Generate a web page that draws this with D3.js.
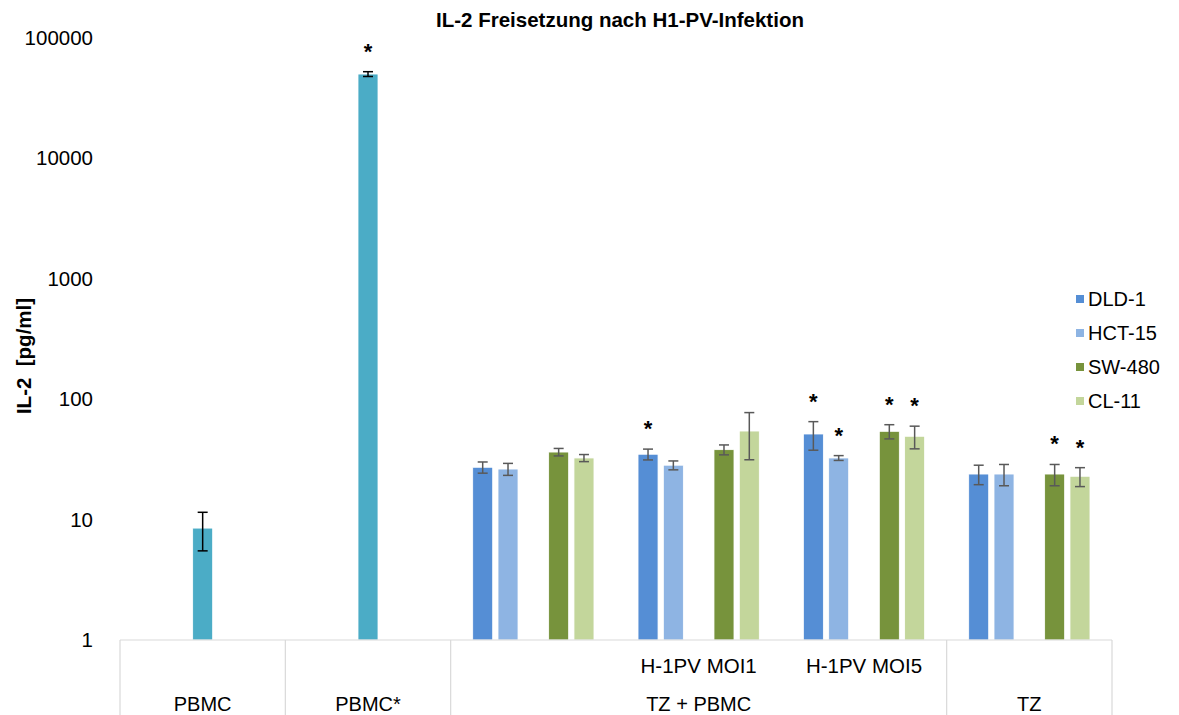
<html>
<script src='https://d3js.org/d3.v7.min.js'></script>
<style>
body {margin:0; background:white;}
text {font-family: 'Liberation Sans', Arial, sans-serif; fill: black;}
</style>
<body onload='init()'>
<svg width=1179 height=715></svg>
<script>
// categories (one slot each), two label levels
const subLabels   = ["", "", "", "H-1PV MOI1", "H-1PV MOI5", ""];
const groupLabels = ["PBMC", "PBMC*", "TZ + PBMC", "TZ"];
const groupSpans  = [1, 1, 3, 1];

// series order inside a slot (PBMC sits in the middle)
const seriesNames = ["DLD-1", "HCT-15", "PBMC", "SW-480", "CL-11"];
const legendNames = ["DLD-1", "HCT-15", "SW-480", "CL-11"];

// IL-2 [pg/ml], mean and error
const pbmcVals  = [8.5, 50200, null, null, null, null];
const pbmcErr   = [3.0, 2300, null, null, null, null];
const dld1Vals  = [null, null, 27.2, 34.9, 51.4, 23.9];
const dld1Err   = [null, null, 2.9, 3.6, 13.7, 4.4];
const hct15Vals = [null, null, 26.3, 28.3, 32.5, 23.9];
const hct15Err  = [null, null, 3.0, 2.4, 1.5, 4.8];
const sw480Vals = [null, null, 36.4, 38.1, 54.1, 23.9];
const sw480Err  = [null, null, 2.6, 3.6, 7.3, 4.8];
const cl11Vals  = [null, null, 32.5, 54.4, 49.2, 22.9];
const cl11Err   = [null, null, 2.2, 23, 10.5, 4.1];

// significance stars
const pbmcStar  = [false, true, false, false, false, false];
const dld1Star  = [false, false, false, true, true, false];
const hct15Star = [false, false, false, false, true, false];
const sw480Star = [false, false, false, false, true, true];
const cl11Star  = [false, false, false, false, true, true];

const yTicks = [1, 10, 100, 1000, 10000, 100000];

const colors = {"DLD-1":"#558ed5", "HCT-15":"#8eb4e3", "PBMC":"#4bacc6", "SW-480":"#77933c", "CL-11":"#c3d69b"};

function init() {
  const svg = d3.select('svg');
  const series = {
    "PBMC":  {v: pbmcVals,  e: pbmcErr,  s: pbmcStar},
    "DLD-1": {v: dld1Vals,  e: dld1Err,  s: dld1Star},
    "HCT-15":{v: hct15Vals, e: hct15Err, s: hct15Star},
    "SW-480":{v: sw480Vals, e: sw480Err, s: sw480Star},
    "CL-11": {v: cl11Vals,  e: cl11Err,  s: cl11Star}
  };

  const x0 = d3.scaleBand().domain(d3.range(subLabels.length)).range([120, 1112]);
  const x1 = d3.scaleBand().domain(seriesNames).range([0, x0.bandwidth()])
    .paddingInner(0.21).paddingOuter(0.87);
  const y = d3.scaleLog().domain([1, 100000]).range([640, 38]);

  // flatten
  const bars = [];
  seriesNames.forEach(function(n) {
    series[n].v.forEach(function(v, i) {
      if (v != null) bars.push({name: n, i: i, v: v, e: series[n].e[i], star: series[n].s[i]});
    });
  });

  const g = svg.append('g');
  g.selectAll('rect.bar').data(bars).enter().append('rect')
    .attr('class', 'bar')
    .attr('x', d => x0(d.i) + x1(d.name))
    .attr('width', x1.bandwidth())
    .attr('y', d => y(d.v))
    .attr('height', d => y(1) - y(d.v))
    .attr('fill', d => colors[d.name])
    .attr('stroke', 'white').attr('stroke-width', 0.8);

  // error bars
  const eb = g.selectAll('g.err').data(bars).enter().append('g')
    .attr('stroke', d => d.name == 'PBMC' ? '#000' : '#595959')
    .attr('stroke-width', 1.5);
  const cx = d => x0(d.i) + x1(d.name) + x1.bandwidth() / 2;
  eb.append('line').attr('x1', cx).attr('x2', cx)
    .attr('y1', d => y(d.v + d.e)).attr('y2', d => y(d.v - d.e));
  eb.append('line').attr('x1', d => cx(d) - 5).attr('x2', d => cx(d) + 5)
    .attr('y1', d => y(d.v + d.e)).attr('y2', d => y(d.v + d.e));
  eb.append('line').attr('x1', d => cx(d) - 5).attr('x2', d => cx(d) + 5)
    .attr('y1', d => y(d.v - d.e)).attr('y2', d => y(d.v - d.e));

  // stars
  g.selectAll('text.star').data(bars.filter(d => d.star)).enter().append('text')
    .attr('x', cx).attr('y', d => y(d.v + d.e) - 13)
    .attr('text-anchor', 'middle')
    .style('font-size', '22px').style('font-weight', 'bold')
    .text('*');

  // y axis (labels only)
  const ya = svg.append('g').attr('transform', 'translate(93,0)')
    .call(d3.axisLeft(y).tickValues(yTicks).tickFormat(d3.format('d')).tickSize(0).tickPadding(0));
  ya.select('.domain').remove();
  ya.selectAll('text').style('font-size', '20.5px').style('font-family', "'Liberation Sans', Arial, sans-serif");

  // category table
  const tbl = svg.append('g').attr('stroke', '#d9d9d9').attr('stroke-width', 1.2);
  tbl.append('line').attr('x1', 120).attr('x2', 1112).attr('y1', y(1)).attr('y2', y(1));
  let acc = 0;
  const bounds = [0];
  groupSpans.forEach(s => { acc += s; bounds.push(acc); });
  tbl.selectAll('line.b').data(bounds).enter().append('line')
    .attr('x1', d => d < subLabels.length ? x0(d) : x0.range()[1])
    .attr('x2', d => d < subLabels.length ? x0(d) : x0.range()[1])
    .attr('y1', y(1)).attr('y2', 715);

  svg.selectAll('text.sub').data(subLabels).enter().append('text')
    .attr('x', (d, i) => x0(i) + x0.bandwidth() / 2).attr('y', 673)
    .attr('text-anchor', 'middle').style('font-size', '20.5px').text(d => d);

  svg.selectAll('text.grp').data(groupLabels).enter().append('text')
    .attr('x', (d, i) => {
      const a = x0(bounds[i]);
      const b = bounds[i + 1] < subLabels.length ? x0(bounds[i + 1]) : x0.range()[1];
      return (a + b) / 2;
    })
    .attr('y', 711)
    .attr('text-anchor', 'middle').style('font-size', '20px').text(d => d);

  // title
  svg.append('text').attr('x', 620).attr('y', 27).attr('text-anchor', 'middle')
    .style('font-size', '20.5px').style('font-weight', 'bold')
    .text('IL-2 Freisetzung nach H1-PV-Infektion');

  // y title
  svg.append('text').attr('transform', 'translate(31,356) rotate(-90)')
    .attr('text-anchor', 'middle').style('font-size', '20.5px').style('font-weight', 'bold')
    .attr('xml:space', 'preserve').style('white-space', 'pre')
    .text('IL-2  [pg/ml]');

  // legend
  const lg = svg.selectAll('g.leg').data(legendNames).enter().append('g')
    .attr('transform', (d, i) => 'translate(1076,' + (299 + i * 34) + ')');
  lg.append('rect').attr('x', 0).attr('y', -4).attr('width', 8).attr('height', 8)
    .attr('fill', d => colors[d]);
  lg.append('text').attr('x', 12).attr('y', 7).style('font-size', '20px').text(d => d);
}
</script>
</body>
</html>
